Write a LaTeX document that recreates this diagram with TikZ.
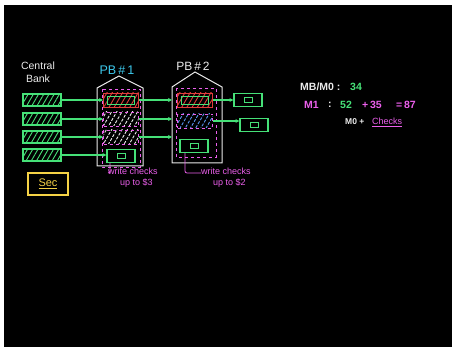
\documentclass[tikz,border=0pt]{standalone}
\usepackage{fontspec}
\setmainfont{Liberation Sans}
\usetikzlibrary{patterns.meta,arrows.meta}
\definecolor{chalkgreen}{RGB}{70,225,120}
\definecolor{chalkpink}{RGB}{235,95,235}
\definecolor{chalkcyan}{RGB}{60,200,235}
\definecolor{chalkyellow}{RGB}{245,210,70}
\definecolor{chalkred}{RGB}{225,60,60}
\definecolor{chalkwhite}{RGB}{235,235,235}
\definecolor{chalkblue}{RGB}{90,150,240}
\tikzset{
  txt/.style={inner sep=0pt, font=\fontsize{9.5}{11}\selectfont},
  hatch/.style={pattern={Lines[angle=60,distance=4.5pt,line width=0.9pt]}, pattern color=#1},
  cbbill/.style={draw=chalkgreen, line width=1.1pt, hatch=chalkgreen, minimum width=38pt, minimum height=12pt, inner sep=0pt},
  redbill/.style={draw=chalkred, line width=0.9pt, hatch=chalkred, minimum width=35pt, minimum height=14pt, inner sep=0pt,
    path picture={\draw[chalkgreen, line width=0.9pt] ([shift={(4pt,-3pt)}]path picture bounding box.north west) rectangle ([shift={(-4pt,3pt)}]path picture bounding box.south east);}},
  whitebill/.style={draw=chalkpink, line width=0.8pt, dashed, hatch=chalkwhite, minimum width=35pt, minimum height=14pt, inner sep=0pt},
  bluebill/.style={draw=chalkpink, line width=0.8pt, dashed, hatch=chalkblue, minimum width=35pt, minimum height=14pt, inner sep=0pt},
  greenbill/.style={draw=chalkgreen, line width=1.1pt, minimum width=28pt, minimum height=13pt, inner sep=0pt,
    path picture={\draw[chalkgreen, line width=0.9pt] ([shift={(-4pt,-2.5pt)}]path picture bounding box.center) rectangle ([shift={(4pt,2.5pt)}]path picture bounding box.center);}},
  flow/.style={chalkgreen, line width=1.1pt, -{Stealth[length=4pt,width=4pt]}},
  house/.style={draw=chalkwhite, line width=1pt},
  vault/.style={draw=chalkpink, dashed, line width=0.9pt},
  note/.style={txt, text=chalkpink, align=left, font=\fontsize{9}{11}\selectfont},
  hook/.style={chalkpink, line width=0.8pt, rounded corners=2pt},
  big/.style={inner sep=0pt, font=\fontsize{10.5}{12}\selectfont\bfseries},
}
\begin{document}
\begin{tikzpicture}[x=1pt,y=-1pt]
\useasboundingbox (0,0) rectangle (456,350);
\fill[white] (0,0) rectangle (456,350);
\fill[black] (4,5) rectangle (452,347);

% Central bank
\node[txt, text=chalkwhite, align=center, font=\fontsize{10.5}{13}\selectfont] (cb) at (38,72) {Central\\Bank};
\node[cbbill] (cb1) at (42,100) {};
\node[cbbill] (cb2) at (42,119) {};
\node[cbbill] (cb3) at (42,137) {};
\node[cbbill] (cb4) at (42,155) {};
\node[draw=chalkyellow, line width=1.1pt, minimum width=40pt, minimum height=22pt, text=chalkyellow, font=\fontsize{11}{12}\selectfont] (sec) at (48,184) {\underline{Sec}};

% PB#1
\node[txt, text=chalkcyan, font=\fontsize{12.5}{14}\selectfont] (pb1) at (117,70) {PB\,\#\,1};
\draw[house] (97,166) -- (97,88) -- (119,76) -- (143,88) -- (143,166) -- cycle;
\draw[vault] (102,89) rectangle (140,167);
\node[redbill] (b11) at (121,100) {};
\node[whitebill] (b12) at (121,119) {};
\node[whitebill] (b13) at (121,137) {};
\node[greenbill] (b14) at (121,156) {};

% PB#2
\node[txt, text=chalkwhite, font=\fontsize{12}{14}\selectfont] (pb2) at (193,66) {PB\,\#\,2};
\draw[house] (172,163) -- (172,87) -- (195,72) -- (222,87) -- (222,163) -- cycle;
\draw[vault] (176,88) rectangle (216,157);
\node[redbill] (b21) at (195,100) {};
\node[bluebill] (b22) at (195,121) {};
\node[greenbill] (b23) at (194,146) {};
\node[greenbill] (o1) at (248,100) {};
\node[greenbill] (o2) at (254,125) {};

% arrows CB -> PB#1
\foreach \i in {1,2,3,4} {
  \draw[flow] (cb\i.east) -- (cb\i.east -| b1\i.west);
}
% arrows PB#1 -> PB#2
\coordinate (w2) at (172,0);
\foreach \i in {1,2,3} {
  \draw[flow] (b1\i.east) -- (b1\i.east -| w2);
}
% arrows PB#2 -> outside
\draw[flow] (b21.east) -- (b21.east -| o1.west);
\draw[flow] (b22.east) -- (b22.east -| o2.west);

% notes
\node[note, anchor=north west] (wc1) at (108,168) {write checks\\\hspace*{12pt}up to \$3};
\draw[hook] ([xshift=-11pt]b14.south) -- ([xshift=-11pt,yshift=-5pt]b14.south |- wc1.north) -- ([yshift=-5pt]wc1.north west);
\node[note, anchor=north west] (wc2) at (201,168) {write checks\\\hspace*{12pt}up to \$2};
\draw[hook] ([xshift=-9pt]b23.south) -- ([xshift=-9pt,yshift=-5pt]b23.south |- wc2.north) -- ([yshift=-5pt]wc2.north west);

% right equations
\node[big, text=chalkwhite, anchor=west] (mb) at (300,87) {MB/M0 :};
\node[big, text=chalkgreen, anchor=west] (mbv) at (350,87) {34};
\node[big, text=chalkpink, anchor=west] (m1) at (304,105) {M1};
\node[big, text=chalkwhite, anchor=west] (m1c) at (328,105) {:};
\node[big, text=chalkgreen, anchor=west] (m1a) at (340,105) {52};
\node[big, text=chalkpink, anchor=west] (m1b) at (362,105) {+\,35};
\node[big, text=chalkpink, anchor=west] (m1d) at (396,105) {=\,87};
\node[txt, text=chalkwhite, anchor=west, font=\fontsize{8.5}{10}\selectfont\bfseries] (m0) at (345,122) {M0 +};
\node[txt, text=chalkpink, anchor=west, font=\fontsize{9}{10}\selectfont] (chk) at (372,122) {\underline{Checks}};
\end{tikzpicture}
\end{document}
